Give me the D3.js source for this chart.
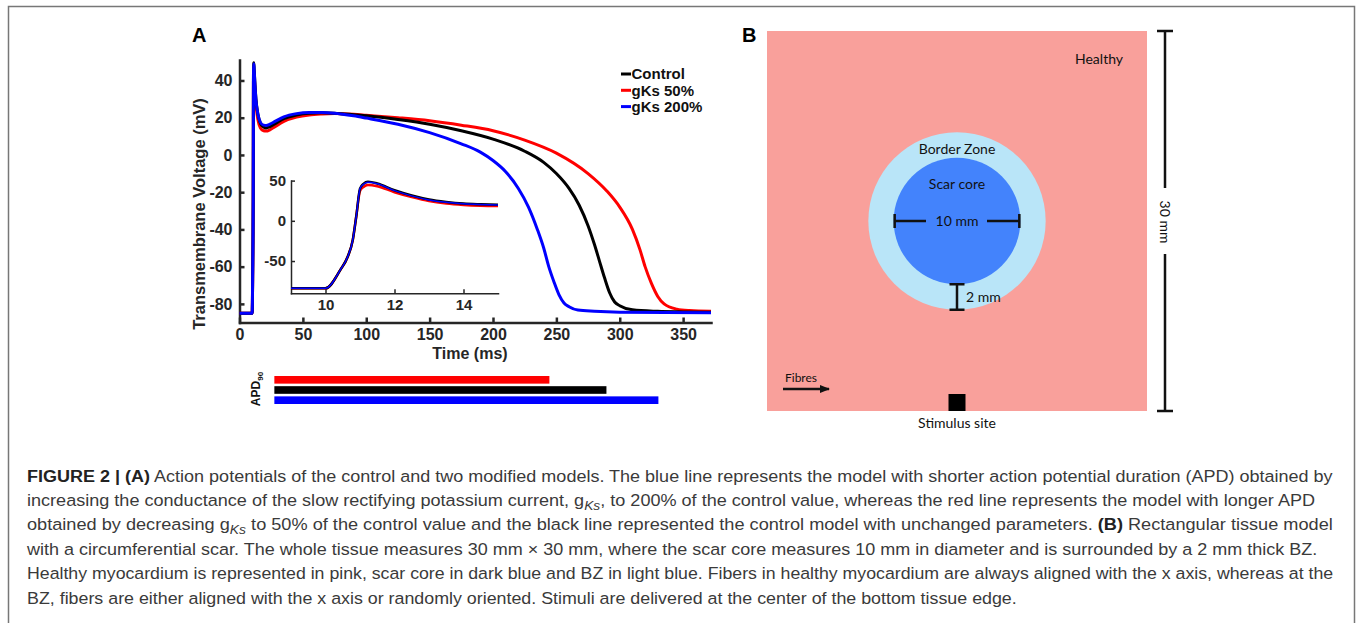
<!DOCTYPE html>
<html>
<head>
<meta charset="utf-8">
<script src="https://cdn.jsdelivr.net/npm/d3@7"></script>
<style>
  body { margin: 0; background: #fff; }
  svg { display: block; }
</style>
</head>
<body>
<svg id="fig" width="1358" height="623"></svg>
<script>
// ---- panel A: action potentials (time in ms, voltage in mV) ----
var seriesNames = ["Control", "gKs 50%", "gKs 200%"];
var seriesColors = ["#000000", "#ff0000", "#0000ff"];

var controlT = [0, 10, 10.45, 10.65, 10.8, 10.9, 11.0, 11.1, 11.3, 11.6, 12.2, 13, 14.5, 16.5, 19, 21, 24, 28, 35, 45, 55, 65, 75, 90, 100, 125, 150, 175, 200, 225, 240, 250, 260, 268, 275, 280, 284, 288, 292, 296, 300, 310, 330, 350, 372];
var controlV = [-85, -85, -61, -45, -24, 5, 40, 46, 49.5, 46, 38, 30, 22, 17, 15, 14.5, 15.2, 16.8, 19.5, 21.5, 22.4, 22.6, 22.4, 21.6, 21, 19, 16.5, 13, 8.5, 2, -4, -10, -18, -27, -38, -48, -57, -66, -74, -79, -81, -83.2, -84, -84.3, -84.5];

var redT = [0, 10, 10.45, 10.65, 10.8, 10.9, 11.0, 11.1, 11.3, 11.6, 12.2, 13, 14.5, 16.5, 19, 21, 24, 28, 35, 45, 55, 65, 75, 90, 100, 125, 150, 175, 200, 225, 250, 275, 290, 300, 310, 316, 320, 325, 330, 335, 345, 355, 372];
var redV = [-85, -85, -61, -45, -24, 5, 38, 43, 45.5, 43, 35, 27, 19, 14.5, 13, 12.8, 13.5, 15.2, 18, 20.3, 21.5, 22, 22.2, 21.8, 21.3, 20, 18.4, 16, 13, 8, 1, -10, -19.5, -28, -40, -51, -60, -69, -76, -80, -82.8, -83.6, -84];

var blueT = [0, 10, 10.45, 10.65, 10.8, 10.9, 11.0, 11.1, 11.3, 11.6, 12.2, 13, 14.5, 16.5, 19, 21, 24, 28, 35, 45, 55, 65, 75, 90, 100, 125, 150, 175, 190, 200, 210, 220, 228, 235, 240, 244, 248, 252, 256, 260, 267, 280, 300, 372];
var blueV = [-85, -85, -61, -45, -24, 5, 40, 46, 49, 45.5, 37.5, 29.5, 22, 17.5, 16, 15.8, 16.5, 18, 20.5, 22.2, 22.8, 22.8, 22.4, 21, 19.8, 16.5, 12, 6, 1.5, -3, -9, -18, -28, -40, -50, -60, -68, -75, -79.5, -81.5, -83.3, -84, -84.5, -84.8];

// inset: zoom on the upstroke
var insetT = [9, 10, 10.43, 10.64, 10.79, 10.89, 11.0, 11.1, 11.23, 11.5, 12, 12.5, 13, 13.5, 14, 14.5, 15];
var insetControl = [-84, -84, -61, -45, -24, 5, 40, 46, 48.5, 46.5, 38, 31.5, 26.5, 23.5, 21.5, 20.6, 20];
var insetRed = [-84, -84, -61, -45, -24, 5, 37, 42, 44.5, 43, 35.5, 29.5, 24.5, 21.5, 19.8, 18.8, 18.3];
var insetBlue = [-84, -84, -61, -45, -24, 5, 40, 45.5, 47.8, 46, 37.5, 31, 26, 23, 21.2, 20.3, 19.8];

var xTicks = [0, 50, 100, 150, 200, 250, 300, 350];
var yTicks = [40, 20, 0, -20, -40, -60, -80];
var insetXTicks = [10, 12, 14];
var insetYTicks = [50, 0, -50];

// APD90 bars (start and duration, ms)
var apdNames = ["gKs 50%", "Control", "gKs 200%"];
var apdColors = ["#ff0000", "#000000", "#0000ff"];
var apdStart = 27.5;
var apd90 = [217, 262, 303];

// ---- panel B: tissue model (mm) ----
var tissueSize = 30;
var scarDiameter = 10;
var bzThickness = 2;
var tissueColors = {healthy: "#f9a09b", bz: "#b9e5f8", core: "#4383fc"};

// ---- caption ----
var captionLines = [
  [["b", "FIGURE 2 | (A)"], ["n", " Action potentials of the control and two modified models. The blue line represents the model with shorter action potential duration (APD) obtained by"]],
  [["n", "increasing the conductance of the slow rectifying potassium current, g"], ["s", "Ks"], ["n", ", to 200% of the control value, whereas the red line represents the model with longer APD"]],
  [["n", "obtained by decreasing g"], ["s", "Ks"], ["n", " to 50% of the control value and the black line represented the control model with unchanged parameters. "], ["b", "(B)"], ["n", " Rectangular tissue model"]],
  [["n", "with a circumferential scar. The whole tissue measures 30 mm \u00d7 30 mm, where the scar core measures 10 mm in diameter and is surrounded by a 2 mm thick BZ."]],
  [["n", "Healthy myocardium is represented in pink, scar core in dark blue and BZ in light blue. Fibers in healthy myocardium are always aligned with the x axis, whereas at the"]],
  [["n", "BZ, fibers are either aligned with the x axis or randomly oriented. Stimuli are delivered at the center of the bottom tissue edge."]]
];
var captionRight = [1334, 1316, 1334, 1318, 1334, 1018];

var svg = d3.select("#fig");
var ARIAL = "'Liberation Sans', Arial, sans-serif";
var LATO = "Lato, 'Open Sans', sans-serif";

// outer frame
svg.append("path")
    .attr("d", "M8.5,640V6.5H1354.5V640")
    .attr("fill", "none")
    .attr("stroke", "#777")
    .attr("stroke-width", 1.5);

// ================= Panel A =================
var x = d3.scaleLinear().domain([0, 372]).range([239.5, 711]);
var y = d3.scaleLinear().domain([-90, 51]).range([322.5, 60]);

var gA = svg.append("g");

gA.append("text").text("A")
    .attr("x", 192).attr("y", 42)
    .style("font-family", ARIAL).style("font-weight", "bold").style("font-size", "20px");

function plain(d) { return String(d); }

function styleAxis(g, w, fs) {
    g.select(".domain").attr("stroke", "#262626").attr("stroke-width", w).attr("stroke-linecap", "square");
    g.selectAll(".tick line").attr("stroke", "#262626").attr("stroke-width", w);
    g.selectAll(".tick text")
        .attr("fill", "#262626")
        .style("font-family", ARIAL).style("font-weight", "bold").style("font-size", fs);
}

var xAxis = gA.append("g").attr("transform", "translate(0," + y(-90) + ")")
    .call(d3.axisBottom(x).tickValues(xTicks).tickFormat(plain).tickSizeInner(-5).tickSizeOuter(0).tickPadding(6));
styleAxis(xAxis, 2.5, "16px");
var yAxis = gA.append("g").attr("transform", "translate(" + x(0) + ",0)")
    .call(d3.axisLeft(y).tickValues(yTicks).tickFormat(plain).tickSizeInner(-5).tickSizeOuter(0).tickPadding(7));
styleAxis(yAxis, 2.5, "16px");

gA.append("text").text("Time (ms)")
    .attr("x", 470).attr("y", 359).attr("text-anchor", "middle")
    .attr("fill", "#262626")
    .style("font-family", ARIAL).style("font-weight", "bold").style("font-size", "16px");
gA.append("text").text("Transmembrane Voltage (mV)")
    .attr("transform", "translate(205,214) rotate(-90)").attr("text-anchor", "middle")
    .attr("fill", "#262626")
    .style("font-family", ARIAL).style("font-weight", "bold").style("font-size", "16.5px");

function toPoints(ts, vs) {
    return ts.map(function(t, i) { return [t, vs[i]]; });
}
var mainLine = d3.line()
    .x(function(d) { return x(d[0]); })
    .y(function(d) { return y(d[1]); })
    .curve(d3.curveMonotoneX);

// draw order: red, black, blue (blue on top)
var mainSeries = [
    {pts: toPoints(redT, redV), color: "#ff0000"},
    {pts: toPoints(controlT, controlV), color: "#000000"},
    {pts: toPoints(blueT, blueV), color: "#0000ff"}
];
gA.selectAll("path.ap").data(mainSeries).enter().append("path")
    .attr("class", "ap")
    .attr("d", function(d) { return mainLine(d.pts); })
    .attr("fill", "none")
    .attr("stroke", function(d) { return d.color; })
    .attr("stroke-width", 3)
    .attr("stroke-linejoin", "round");

// legend
var legend = gA.selectAll("g.leg").data(seriesNames).enter().append("g")
    .attr("class", "leg")
    .attr("transform", function(d, i) { return "translate(621," + (74 + i * 16.3) + ")"; });
legend.append("line").attr("x1", 0).attr("x2", 10).attr("y1", 0).attr("y2", 0)
    .attr("stroke", function(d, i) { return seriesColors[i]; }).attr("stroke-width", 3);
legend.append("text").text(function(d) { return d; })
    .attr("x", 10.5).attr("dy", "0.35em")
    .attr("fill", "#111")
    .style("font-family", ARIAL).style("font-weight", "bold").style("font-size", "15px");

// inset
var xi = d3.scaleLinear().domain([9, 15]).range([291, 498]);
var yi = d3.scaleLinear().domain([-90, 50]).range([293.2, 180.6]);
var gI = gA.append("g");
var ixAxis = gI.append("g").attr("transform", "translate(0," + yi(-90) + ")")
    .call(d3.axisBottom(xi).tickValues(insetXTicks).tickFormat(plain).tickSizeInner(-4).tickSizeOuter(0).tickPadding(6));
styleAxis(ixAxis, 1.5, "15px");
var iyAxis = gI.append("g").attr("transform", "translate(" + xi(9) + ",0)")
    .call(d3.axisLeft(yi).tickValues(insetYTicks).tickFormat(plain).tickSizeInner(-4).tickSizeOuter(0).tickPadding(5));
styleAxis(iyAxis, 1.5, "15px");

var insetLine = d3.line()
    .x(function(d) { return xi(d[0]); })
    .y(function(d) { return yi(d[1]); })
    .curve(d3.curveMonotoneX);
var insetSeries = [
    {pts: toPoints(insetT, insetRed), color: "#ff0000", w: 2.5},
    {pts: toPoints(insetT, insetControl), color: "#000000", w: 2.5},
    {pts: toPoints(insetT, insetBlue), color: "#0000ff", w: 1.5}
];
gI.selectAll("path.ins").data(insetSeries).enter().append("path")
    .attr("class", "ins")
    .attr("d", function(d) { return insetLine(d.pts); })
    .attr("fill", "none")
    .attr("stroke", function(d) { return d.color; })
    .attr("stroke-width", function(d) { return d.w; });

// APD90 bars
var yb = d3.scaleBand().domain(apdNames).range([376, 404]).paddingInner(0.25);
gA.selectAll("rect.apd").data(apdNames).enter().append("rect")
    .attr("class", "apd")
    .attr("x", x(apdStart))
    .attr("y", function(d) { return yb(d); })
    .attr("width", function(d, i) { return x(apdStart + apd90[i]) - x(apdStart); })
    .attr("height", yb.bandwidth())
    .attr("fill", function(d, i) { return apdColors[i]; });
var apdLabel = gA.append("text")
    .attr("transform", "translate(260,389) rotate(-90)").attr("text-anchor", "middle")
    .attr("fill", "#111")
    .style("font-family", ARIAL).style("font-weight", "bold").style("font-size", "12px");
apdLabel.append("tspan").text("APD");
apdLabel.append("tspan").text("90").attr("dy", 3).style("font-size", "8px");

// ================= Panel B =================
var bx = d3.scaleLinear().domain([0, tissueSize]).range([767, 1147]);
var by = d3.scaleLinear().domain([0, tissueSize]).range([31, 411]);
var pxPerMm = bx(1) - bx(0);
var cxB = bx(tissueSize / 2), cyB = by(tissueSize / 2);
var coreR = scarDiameter / 2;
var gB = svg.append("g");

gB.append("text").text("B")
    .attr("x", 742).attr("y", 42)
    .style("font-family", ARIAL).style("font-weight", "bold").style("font-size", "20px");

gB.append("rect")
    .attr("x", bx(0)).attr("y", by(0))
    .attr("width", bx(tissueSize) - bx(0)).attr("height", by(tissueSize) - by(0))
    .attr("fill", tissueColors.healthy);
gB.append("circle").attr("cx", cxB).attr("cy", cyB)
    .attr("r", (coreR + bzThickness) * pxPerMm).attr("fill", tissueColors.bz);
gB.append("circle").attr("cx", cxB).attr("cy", cyB)
    .attr("r", coreR * pxPerMm).attr("fill", tissueColors.core);

function label(txt, xx, yy, anchor, size) {
    return gB.append("text").text(txt)
        .attr("x", xx).attr("y", yy).attr("text-anchor", anchor || "start")
        .attr("dy", "0.35em")
        .attr("fill", "#111")
        .style("font-family", LATO).style("font-size", (size || 14) + "px");
}
label("Healthy", 1075, 59);
label("Border Zone", cxB, 149, "middle");
label("Scar core", cxB, 184, "middle");
label("10 mm", cxB, 221, "middle");
label("2 mm", 966, 297);
label("Fibres", 785, 378, "start", 12);
label("Stimulus site", cxB, 423, "middle");
label("30 mm", 0, 0, "middle").attr("transform", "translate(1165," + (by(15) + 1) + ") rotate(90)");

// dimension bars
var dims = gB.append("g").attr("stroke", "#111").attr("stroke-width", 2.5).attr("fill", "none");
var x10a = bx(tissueSize / 2 - coreR), x10b = bx(tissueSize / 2 + coreR);
dims.append("path").attr("d",
    "M" + (x10a + 1) + "," + cyB + "H926" +
    "M987," + cyB + "H" + (x10b - 1) +
    "M" + (x10a + 1) + "," + (cyB - 7) + "V" + (cyB + 7) +
    "M" + (x10b - 1) + "," + (cyB - 7) + "V" + (cyB + 7));
var y2a = by(tissueSize / 2 + coreR), y2b = by(tissueSize / 2 + coreR + bzThickness);
dims.append("path").attr("d",
    "M" + cxB + "," + y2a + "V" + y2b +
    "M" + (cxB - 7.5) + "," + y2a + "H" + (cxB + 7.5) +
    "M" + (cxB - 7.5) + "," + y2b + "H" + (cxB + 7.5));
dims.append("path").attr("d",
    "M1165," + by(0) + "V188M1165,254V" + by(tissueSize) +
    "M1157," + by(0) + "H1173M1157," + by(tissueSize) + "H1173");

// fibre arrow
svg.append("defs").append("marker")
    .attr("id", "arr").attr("viewBox", "0 0 10 10").attr("refX", 9).attr("refY", 5)
    .attr("markerWidth", 4).attr("markerHeight", 4).attr("orient", "auto")
    .append("path").attr("d", "M0,1L10,5L0,9Z").attr("fill", "#111");
gB.append("line").attr("x1", 783).attr("x2", 829).attr("y1", 389).attr("y2", 389)
    .attr("stroke", "#111").attr("stroke-width", 2.5).attr("marker-end", "url(#arr)");

// stimulus site
gB.append("rect").attr("x", cxB - 8.5).attr("y", by(tissueSize) - 17)
    .attr("width", 17).attr("height", 17).attr("fill", "#000");

// ================= Caption =================
var cap = svg.append("g");
captionLines.forEach(function(parts, i) {
    var t = cap.append("text")
        .attr("fill", "#3a3a3a")
        .style("font-family", ARIAL).style("font-size", "17px");
    var shifted = false;
    parts.forEach(function(p) {
        var ts = t.append("tspan").text(p[1]);
        if (p[0] === "b") ts.style("font-weight", "bold").attr("fill", "#222");
        if (p[0] === "s") { ts.style("font-style", "italic").style("font-size", "13px").attr("dy", 4); shifted = true; }
        else if (shifted) { ts.attr("dy", -4); shifted = false; }
    });
    var w = t.node().getComputedTextLength();
    var target = captionRight[i] - 27;
    t.attr("transform", "translate(27," + (481.5 + i * 24.4) + ") scale(" + (target / w) + ",1)");
});
</script>
</body>
</html>
